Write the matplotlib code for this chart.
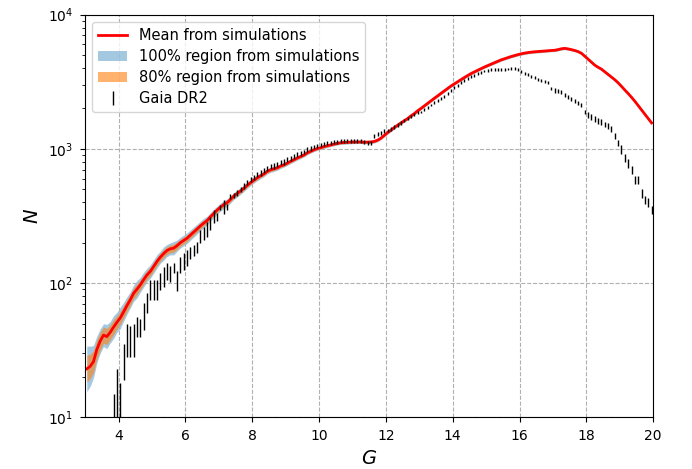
import matplotlib
matplotlib.use("Agg")
import matplotlib.pyplot as plt
import numpy as np

nan = np.nan

# bin centres in G (0.1 mag bins, 3.0 - 20.0)
g_bins = np.round(3.05 + 0.1 * np.arange(170), 2)

# mean number counts from the simulations (one row per magnitude)
mean_sim = [
    23, 24, 26, 32, 37, 41, 40, 43, 47, 51,
    55, 61, 68, 75, 84, 90, 97, 106, 115, 122,
    133, 145, 156, 166, 175, 180, 182, 190, 200, 208,
    216, 228, 240, 253, 267, 280, 292, 312, 330, 350,
    368, 385, 398, 420, 445, 465, 485, 508, 535, 560,
    585, 608, 630, 650, 680, 698, 710, 722, 745, 760,
    782, 808, 830, 855, 878, 900, 935, 960, 985, 1005,
    1020, 1040, 1055, 1070, 1085, 1100, 1110, 1115, 1120, 1122,
    1125, 1125, 1125, 1120, 1122, 1125, 1135, 1160, 1200, 1260,
    1320, 1380, 1440, 1500, 1560, 1620, 1680, 1760, 1830, 1920,
    2000, 2090, 2180, 2280, 2380, 2480, 2590, 2700, 2820, 2940,
    3050, 3170, 3280, 3400, 3520, 3640, 3740, 3850, 3960, 4070,
    4170, 4280, 4380, 4490, 4600, 4690, 4780, 4870, 4950, 5030,
    5100, 5160, 5210, 5250, 5280, 5300, 5320, 5350, 5380, 5400,
    5420, 5480, 5560, 5600, 5550, 5480, 5400, 5300, 5150, 4900,
    4650, 4420, 4200, 4050, 3920, 3750, 3580, 3420, 3270, 3100,
    2920, 2740, 2580, 2420, 2260, 2100, 1950, 1810, 1680, 1560,
]

# half width (dex) of the 100% and 80% regions of the simulations
width_100 = [
    0.17, 0.15, 0.12, 0.10, 0.09, 0.085, 0.09, 0.08, 0.085, 0.075,
    0.08, 0.07, 0.065, 0.06, 0.06, 0.065, 0.055, 0.055, 0.05, 0.05,
    0.05, 0.05, 0.045, 0.05, 0.045, 0.045, 0.05, 0.042, 0.04, 0.04,
    0.04, 0.038, 0.038, 0.036, 0.035, 0.036, 0.033, 0.032, 0.032, 0.03,
    0.03, 0.029, 0.028, 0.027, 0.026, 0.025, 0.025, 0.024, 0.023, 0.022,
    0.022, 0.021, 0.021, 0.02, 0.02, 0.019, 0.019, 0.018, 0.018, 0.017,
    0.017, 0.017, 0.016, 0.016, 0.016, 0.015, 0.015, 0.015, 0.014, 0.014,
    0.014, 0.014, 0.013, 0.013, 0.013, 0.013, 0.013, 0.013, 0.013, 0.013,
    0.012, 0.012, 0.012, 0.012, 0.012, 0.012, 0.012, 0.012, 0.012, 0.012,
    0.012, 0.012, 0.011, 0.011, 0.011, 0.011, 0.011, 0.011, 0.011, 0.011,
    0.010, 0.010, 0.010, 0.010, 0.010, 0.010, 0.010, 0.010, 0.010, 0.010,
    0.010, 0.010, 0.010, 0.010, 0.010, 0.010, 0.010, 0.010, 0.010, 0.010,
    0.010, 0.010, 0.010, 0.010, 0.010, 0.010, 0.010, 0.010, 0.010, 0.010,
    0.010, 0.010, 0.010, 0.010, 0.010, 0.010, 0.010, 0.010, 0.010, 0.010,
    0.010, 0.010, 0.010, 0.010, 0.010, 0.010, 0.010, 0.010, 0.010, 0.010,
    0.010, 0.010, 0.010, 0.010, 0.010, 0.010, 0.010, 0.010, 0.010, 0.010,
    0.010, 0.010, 0.010, 0.010, 0.010, 0.010, 0.010, 0.010, 0.010, 0.010,
]
width_80 = [
    0.10, 0.09, 0.08, 0.07, 0.065, 0.06, 0.06, 0.055, 0.055, 0.05,
    0.05, 0.045, 0.042, 0.04, 0.04, 0.04, 0.036, 0.035, 0.033, 0.032,
    0.032, 0.031, 0.03, 0.03, 0.029, 0.029, 0.03, 0.027, 0.026, 0.026,
    0.025, 0.024, 0.024, 0.023, 0.022, 0.022, 0.021, 0.02, 0.02, 0.019,
    0.019, 0.018, 0.018, 0.017, 0.017, 0.016, 0.016, 0.015, 0.015, 0.014,
    0.014, 0.014, 0.013, 0.013, 0.013, 0.012, 0.012, 0.012, 0.011, 0.011,
    0.011, 0.011, 0.010, 0.010, 0.010, 0.010, 0.010, 0.010, 0.010, 0.010,
    0.009, 0.009, 0.009, 0.009, 0.009, 0.009, 0.009, 0.009, 0.009, 0.009,
    0.008, 0.008, 0.008, 0.008, 0.008, 0.008, 0.008, 0.008, 0.008, 0.008,
    0.008, 0.008, 0.008, 0.008, 0.008, 0.008, 0.008, 0.008, 0.008, 0.008,
    0.007, 0.007, 0.007, 0.007, 0.007, 0.007, 0.007, 0.007, 0.007, 0.007,
    0.007, 0.007, 0.007, 0.007, 0.007, 0.007, 0.007, 0.007, 0.007, 0.007,
    0.007, 0.007, 0.007, 0.007, 0.007, 0.007, 0.007, 0.007, 0.007, 0.007,
    0.007, 0.007, 0.007, 0.007, 0.007, 0.007, 0.007, 0.007, 0.007, 0.007,
    0.007, 0.007, 0.007, 0.007, 0.007, 0.007, 0.007, 0.007, 0.007, 0.007,
    0.007, 0.007, 0.007, 0.007, 0.007, 0.007, 0.007, 0.007, 0.007, 0.007,
    0.007, 0.007, 0.007, 0.007, 0.007, 0.007, 0.007, 0.007, 0.007, 0.007,
]

# Gaia DR2 counts and their errors
gaia_n = [
    nan, nan, nan, nan, nan, nan, nan, nan, 9, 14,
    11, 27, 39, 38, 39, 48, 47, 58, 72, 90,
    90, 90, 104, 113, 124, 118, 130, 105, 138, 147,
    155, 168, 175, 185, 225, 236, 253, 280, 316, 310,
    367, 372, 370, 440, 450, 470, 500, 530, 565, 590,
    615, 645, 660, 690, 715, 740, 745, 765, 790, 800,
    830, 850, 880, 905, 925, 950, 985, 1005, 1030, 1050,
    1065, 1085, 1100, 1110, 1120, 1130, 1140, 1150, 1145, 1150,
    1150, 1145, 1140, 1120, 1100, 1110, 1250, 1290, 1320, 1350,
    1370, 1400, 1450, 1510, 1560, 1620, 1680, 1740, 1800, 1860,
    1880, 1960, 2040, 2120, 2200, 2290, 2380, 2470, 2580, 2700,
    2850, 2970, 3100, 3230, 3350, 3440, 3540, 3640, 3730, 3800,
    3850, 3880, 3900, 3910, 3900, 3880, 3930, 3960, 3990, 3900,
    3750, 3664, 3560, 3460, 3380, 3300, 3240, 3190, 3100, 2805,
    2720, 2680, 2650, 2500, 2420, 2366, 2280, 2200, 2109, 1884,
    1800, 1730, 1680, 1620, 1585, 1520, 1470, 1416, 1250, 1100,
    990, 860, 780, 695, 590, 586, 467, 416, 400, 351,
]
gaia_err = [
    nan, nan, nan, nan, nan, nan, nan, nan, 6, 9,
    7, 8, 11, 10, 11, 8, 7, 13, 12, 15,
    15, 15, 15, 19, 18, 16, 11, 18, 19, 21,
    22, 18, 17, 18, 25, 26, 32, 31, 35, 20,
    17, 45, 17, 20, 20, 21, 22, 24, 25, 27,
    28, 29, 30, 31, 32, 33, 34, 34, 36, 36,
    33, 34, 35, 36, 37, 38, 39, 40, 41, 42,
    37, 38, 38, 39, 39, 40, 40, 40, 40, 40,
    40, 40, 40, 39, 38, 39, 44, 45, 46, 47,
    41, 42, 43, 45, 47, 49, 50, 52, 54, 56,
    47, 49, 51, 53, 55, 57, 60, 62, 64, 68,
    71, 74, 77, 81, 84, 86, 88, 91, 93, 95,
    96, 97, 97, 98, 97, 97, 98, 99, 100, 97,
    101, 99, 96, 93, 91, 89, 87, 86, 84, 76,
    95, 94, 93, 88, 85, 83, 80, 77, 74, 66,
    90, 87, 84, 81, 79, 76, 74, 71, 63, 55,
    69, 60, 55, 49, 41, 41, 33, 29, 28, 25,
]

mean_sim = np.array(mean_sim, dtype=float)
w100 = np.array(width_100)
w80 = np.array(width_80)

fig = plt.figure(figsize=(6.92, 4.69), dpi=100)
ax = fig.add_axes([0.123, 0.11, 0.821, 0.859])

band100 = ax.fill_between(g_bins, mean_sim * 10**(-w100), mean_sim * 10**w100,
                          color='tab:blue', alpha=0.4, lw=0)
band80 = ax.fill_between(g_bins, mean_sim * 10**(-w80), mean_sim * 10**w80,
                         color='tab:orange', alpha=0.6, lw=0)
line, = ax.plot(g_bins, mean_sim, color='red', lw=2)
gaia = ax.errorbar(g_bins, gaia_n, yerr=gaia_err, fmt='none', ecolor='k',
                   elinewidth=1.0, zorder=3)

ax.set_yscale('log')
ax.set_xlim(3, 20)
ax.set_ylim(10, 1e4)
ax.set_xticks(np.arange(4, 21, 2))
ax.grid(True, which='major', ls='--', color='#b0b0b0', lw=0.8)
ax.tick_params(labelsize=10, pad=5)
ax.set_xlabel('$G$', fontsize=14, labelpad=4)
ax.set_ylabel('$N$', fontsize=14)

ax.legend([line, band100, band80, gaia],
          ['Mean from simulations', '100% region from simulations',
           '80% region from simulations', 'Gaia DR2'],
          loc='upper left', fontsize=10.5, labelspacing=0.42)

fig.savefig('out.png', dpi=100)
